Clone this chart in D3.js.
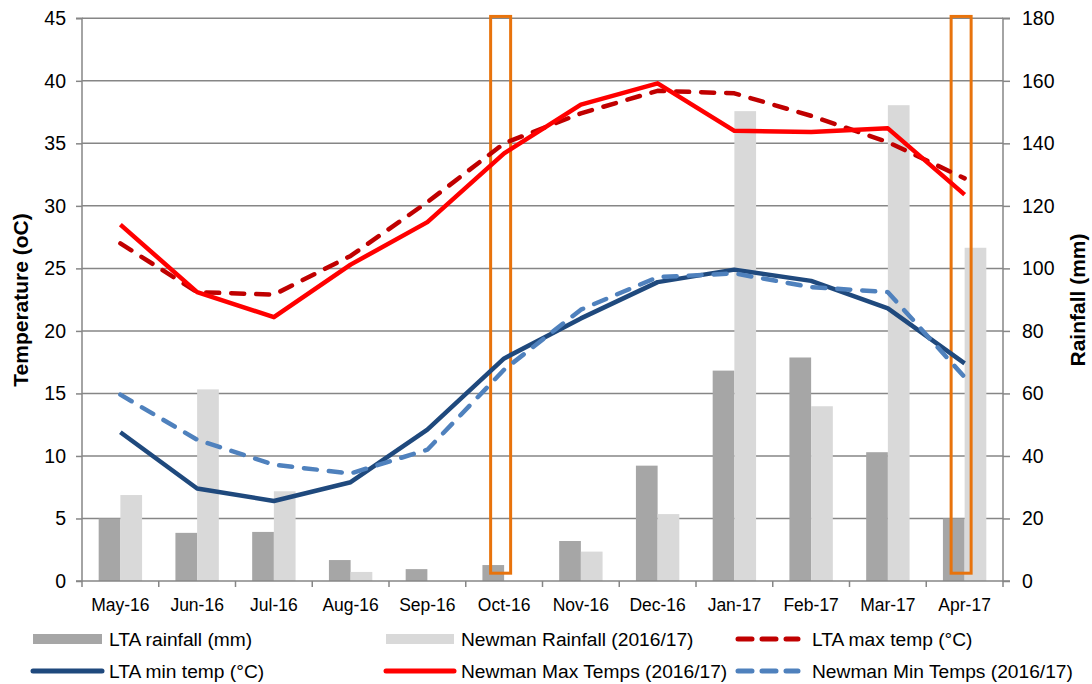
<!DOCTYPE html>
<html>
<head>
<meta charset="utf-8">
<script src="https://cdn.jsdelivr.net/npm/d3@7"></script>
<style>
  html, body { margin: 0; padding: 0; background: #fff; }
  svg { display: block; }
  text { font-family: "Liberation Sans", Arial, sans-serif; fill: #000; }
</style>
</head>
<body>
<svg id="chart" width="1092" height="684"></svg>
<script>
const months = ["May-16","Jun-16","Jul-16","Aug-16","Sep-16","Oct-16","Nov-16","Dec-16","Jan-17","Feb-17","Mar-17","Apr-17"];
const ltaRain = [20.0, 15.4, 15.7, 6.7, 3.8, 5.1, 12.8, 36.9, 67.3, 71.5, 41.2, 20.0];
const newmanRain = [27.5, 61.3, 28.7, 2.9, 0, 0, 9.4, 21.4, 150.3, 55.9, 152.2, 106.6];
const ltaMax = [27.0, 23.1, 22.9, 26.0, 30.3, 35.0, 37.4, 39.2, 39.0, 37.2, 35.1, 32.2];
const newmanMax = [28.5, 23.1, 21.1, 25.3, 28.7, 34.2, 38.1, 39.8, 36.0, 35.9, 36.2, 30.9];
const ltaMin = [11.9, 7.4, 6.4, 7.9, 12.1, 17.8, 21.0, 23.9, 24.9, 24.0, 21.8, 17.4];
const newmanMin = [14.9, 11.3, 9.3, 8.6, 10.5, 16.9, 21.7, 24.3, 24.6, 23.5, 23.1, 16.3];
const tempTicks = [0,5,10,15,20,25,30,35,40,45];
const rainTicks = [0,20,40,60,80,100,120,140,160,180];
const highlightMonths = ["Oct-16","Apr-17"];

const svg = d3.select("#chart");
const L = 82, R = 1003, T = 18.3, B = 581;

const x = d3.scaleBand().domain(months).range([L, R]).paddingInner(0).paddingOuter(0);
const yT = d3.scaleLinear().domain([0,45]).range([B, T]);
const yR = d3.scaleLinear().domain([0,180]).range([B, T]);
const gridColor = "#868686";

// gridlines
svg.append("g").selectAll("line").data(tempTicks.slice(1)).join("line")
  .attr("x1", L).attr("x2", R)
  .attr("y1", d => yT(d)).attr("y2", d => yT(d))
  .attr("stroke", gridColor).attr("stroke-width", 1.5);

// bars
const bw = 21.7;
const rainSeries = [
  {vals: ltaRain, color: "#A6A6A6", off: -bw},
  {vals: newmanRain, color: "#D9D9D9", off: 0}
];
rainSeries.forEach(s => {
  svg.append("g").selectAll("rect").data(months).join("rect")
    .attr("x", (m) => x(m) + x.bandwidth()/2 + s.off)
    .attr("width", bw)
    .attr("y", (m,i) => yR(s.vals[i]))
    .attr("height", (m,i) => B - yR(s.vals[i]))
    .attr("fill", s.color);
});

// axes
const leftAxis = d3.axisLeft(yT).tickValues(tempTicks).tickSize(6).tickPadding(10);
const gl = svg.append("g").attr("transform", `translate(${L},0)`).call(leftAxis);
const rightAxis = d3.axisRight(yR).tickValues(rainTicks).tickSize(7).tickPadding(12);
const gr = svg.append("g").attr("transform", `translate(${R},0)`).call(rightAxis);
const bottomAxis = d3.axisBottom(x).tickSize(0).tickPadding(18);
const gb = svg.append("g").attr("transform", `translate(0,${B})`).call(bottomAxis);
[gl, gr, gb].forEach(g => {
  g.selectAll(".domain").attr("stroke", gridColor).attr("stroke-width", 1.5);
  g.selectAll(".tick line").attr("stroke", gridColor).attr("stroke-width", 1.5);
  g.selectAll("text").attr("font-size", 19.5).attr("font-family", "Liberation Sans, Arial, sans-serif").attr("fill", "#000");
});
gb.selectAll("text").attr("font-size", 17.5);
gl.select(".domain").attr("d", `M-6,${T}H0V${B}H-6`);
gr.select(".domain").attr("d", `M7,${T}H0V${B}H7`);
gb.select(".domain").attr("d", `M${L},0H${R}`);
// category boundary ticks
const bounds = months.map(m => x(m)).concat([R]);
svg.append("g").selectAll("line").data(bounds).join("line")
  .attr("x1", d => d).attr("x2", d => d).attr("y1", B).attr("y2", B + 6)
  .attr("stroke", gridColor).attr("stroke-width", 1.5);

// highlight rectangles
svg.append("g").selectAll("rect").data(highlightMonths).join("rect")
  .attr("x", m => x(m) + x.bandwidth()/2 - 13.5)
  .attr("width", 20)
  .attr("y", yR(180.6))
  .attr("height", yR(2.5) - yR(180.6))
  .attr("fill", "none").attr("stroke", "#E8730C").attr("stroke-width", 3);

// lines
const line = d3.line().x((d,i) => x(months[i]) + x.bandwidth()/2).y(d => yT(d));
const lineSeries = [
  {vals: ltaMax, color: "#C00000", dash: "13,12"},
  {vals: newmanMax, color: "#FF0000", dash: null},
  {vals: ltaMin, color: "#1F497D", dash: null},
  {vals: newmanMin, color: "#4F81BD", dash: "13,12"}
];
[lineSeries[2], lineSeries[0], lineSeries[1], lineSeries[3]].forEach(s => {
  svg.append("path").datum(s.vals)
    .attr("d", line)
    .attr("fill", "none")
    .attr("stroke", s.color)
    .attr("stroke-width", 4.5)
    .attr("stroke-linejoin", "round")
    .attr("stroke-linecap", s.dash ? "round" : "butt")
    .attr("stroke-dasharray", s.dash);
});

// axis titles
svg.append("text").attr("transform", "translate(28,300) rotate(-90)")
  .attr("text-anchor", "middle").attr("font-size", 21).attr("font-weight", "bold")
  .text("Temperature (oC)");
svg.append("text").attr("transform", "translate(1085,300) rotate(-90)")
  .attr("text-anchor", "middle").attr("font-size", 21).attr("font-weight", "bold")
  .text("Rainfall (mm)");

// legend
const legend = [
  {label: "LTA rainfall (mm)", type: "rect", color: "#A6A6A6", x: 33, sw: 69, tx: 109, y: 639},
  {label: "Newman Rainfall (2016/17)", type: "rect", color: "#D9D9D9", x: 386, sw: 68, tx: 461, y: 639},
  {label: "LTA max temp (°C)", type: "line", color: "#C00000", dash: "14,10", x: 738, sw: 60, tx: 812, y: 639},
  {label: "LTA min temp (°C)", type: "line", color: "#1F497D", x: 33, sw: 69, tx: 109, y: 671},
  {label: "Newman Max Temps (2016/17)", type: "line", color: "#FF0000", x: 386, sw: 68, tx: 461, y: 671},
  {label: "Newman Min Temps (2016/17)", type: "line", color: "#4F81BD", dash: "14,10", x: 738, sw: 60, tx: 812, y: 671}
];
const lg = svg.append("g");
legend.forEach(d => {
  if (d.type === "rect") {
    lg.append("rect").attr("x", d.x).attr("y", d.y - 5).attr("width", d.sw).attr("height", 10).attr("fill", d.color);
  } else {
    lg.append("line").attr("x1", d.x).attr("x2", d.x + d.sw).attr("y1", d.y).attr("y2", d.y)
      .attr("stroke", d.color).attr("stroke-width", 5).attr("stroke-linecap", "round")
      .attr("stroke-dasharray", d.dash || null);
  }
  lg.append("text").attr("x", d.tx).attr("y", d.y + 6.5).attr("font-size", 19.2).text(d.label);
});
</script>
</body>
</html>
